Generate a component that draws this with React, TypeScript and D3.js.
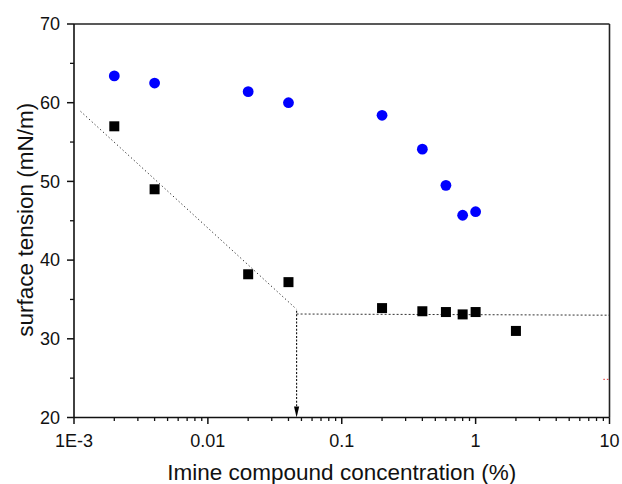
import React from "react";
import * as d3 from "d3";

// Data
const concentrations = [0.002, 0.004, 0.02, 0.04, 0.2, 0.4, 0.6, 0.8, 1.0];
const blueTension = [63.4, 62.5, 61.4, 60.0, 58.4, 54.1, 49.5, 45.7, 46.15];
const squareConc = [0.002, 0.004, 0.02, 0.04, 0.2, 0.4, 0.6, 0.8, 1.0, 2.0];
const squareTension = [57.0, 49.0, 38.2, 37.2, 33.9, 33.5, 33.4, 33.1, 33.4, 31.0];

const slopeLine: [number, number][] = [[0.00112, 58.9], [0.046, 33.75]];
const plateauLine: [number, number][] = [[0.046, 33.15], [10, 33.0]];
const cmcArrow: [number, number][] = [[0.046, 33.57], [0.046, 20]];
const redMark: [number, number][] = [[9.0, 24.85], [10, 24.85]];

const xMajor = [0.001, 0.01, 0.1, 1, 10];
const xMajorLabels = ["1E-3", "0.01", "0.1", "1", "10"];
const yMajor = [20, 30, 40, 50, 60, 70];
const yMinor = [25, 35, 45, 55, 65];

const xTitle = "Imine compound concentration (%)";
const yTitle = "surface tension (mN/m)";

const W = 622;
const H = 484;
const L = 74, R = 609.5, T = 24, B = 417.5;
const FONT = "'Liberation Sans', Arial, sans-serif";

export default function App() {
  const x = d3.scaleLog().domain([1e-3, 10]).range([L, R]);
  const y = d3.scaleLinear().domain([20, 70]).range([B, T]);
  const line = d3.line<[number, number]>().x((d) => x(d[0])).y((d) => y(d[1]));

  const xMinor: number[] = [];
  for (let d = -3; d < 1; d++) {
    for (let k = 2; k <= 9; k++) xMinor.push(k * Math.pow(10, d));
  }

  const ax = x(cmcArrow[1][0]);
  const ay = y(cmcArrow[1][1]);

  return (
    <svg
      width={W}
      height={H}
      style={{ position: "absolute", left: 0, top: 0, background: "#fff" }}
      fontFamily={FONT}
    >
      <rect x={0} y={0} width={W} height={H} fill="#fff" />

      {/* reference lines */}
      <path d={line(slopeLine) || ""} fill="none" stroke="#222" strokeWidth={1} strokeDasharray="1.2,2.6" />
      <path d={line(plateauLine) || ""} fill="none" stroke="#333" strokeWidth={1} strokeDasharray="2,2" />
      <path d={line([cmcArrow[0], [cmcArrow[1][0], 21.2]]) || ""} fill="none" stroke="#111" strokeWidth={1.1} strokeDasharray="2,1.6" />
      <path d={`M${ax - 2.6},${ay - 11} L${ax + 2.6},${ay - 11} L${ax},${ay} Z`} fill="#000" />
      <path d={line(redMark) || ""} fill="none" stroke="#e03030" strokeWidth={1} strokeDasharray="1.5,2" />

      {/* frame */}
      <line x1={L} y1={T} x2={R} y2={T} stroke="#222" strokeWidth={1.6} />
      <line x1={R} y1={T} x2={R} y2={B} stroke="#222" strokeWidth={1.6} />
      <line x1={L} y1={T} x2={L} y2={B} stroke="#111" strokeWidth={1.6} />
      <line x1={L} y1={B} x2={R} y2={B} stroke="#111" strokeWidth={1.6} />

      {/* x ticks */}
      {xMajor.map((v, i) => (
        <g key={"xm" + i}>
          <line x1={x(v)} x2={x(v)} y1={B} y2={B + 6.5} stroke="#111" strokeWidth={1.5} />
          <text x={x(v)} y={B + 29.5} textAnchor="middle" fontSize={18} fill="#111">
            {xMajorLabels[i]}
          </text>
        </g>
      ))}
      {xMinor.map((v, i) => (
        <line key={"xn" + i} x1={x(v)} x2={x(v)} y1={B} y2={B + 3.5} stroke="#111" strokeWidth={1.3} />
      ))}

      {/* y ticks */}
      {yMajor.map((v, i) => (
        <g key={"ym" + i}>
          <line x1={L - 7} x2={L} y1={y(v)} y2={y(v)} stroke="#111" strokeWidth={1.5} />
          <text x={L - 14} y={y(v) + 6.3} textAnchor="end" fontSize={18} fill="#111">
            {String(v)}
          </text>
        </g>
      ))}
      {yMinor.map((v, i) => (
        <line key={"yn" + i} x1={L - 4} x2={L} y1={y(v)} y2={y(v)} stroke="#111" strokeWidth={1.3} />
      ))}

      {/* blue circles */}
      {concentrations.map((c, i) => (
        <circle key={"c" + i} cx={x(c)} cy={y(blueTension[i])} r={5.4} fill="#0000ff" />
      ))}

      {/* black squares */}
      {squareConc.map((c, i) => (
        <rect key={"s" + i} x={x(c) - 5} y={y(squareTension[i]) - 5} width={10} height={10} fill="#000" />
      ))}

      {/* titles */}
      <text x={(L + R) / 2} y={480} textAnchor="middle" fontSize={22.5} fill="#111">
        {xTitle}
      </text>
      <text
        transform={`translate(33,${(T + B) / 2 - 1}) rotate(-90)`}
        textAnchor="middle"
        fontSize={22.5}
        fill="#111"
      >
        {yTitle}
      </text>
    </svg>
  );
}
